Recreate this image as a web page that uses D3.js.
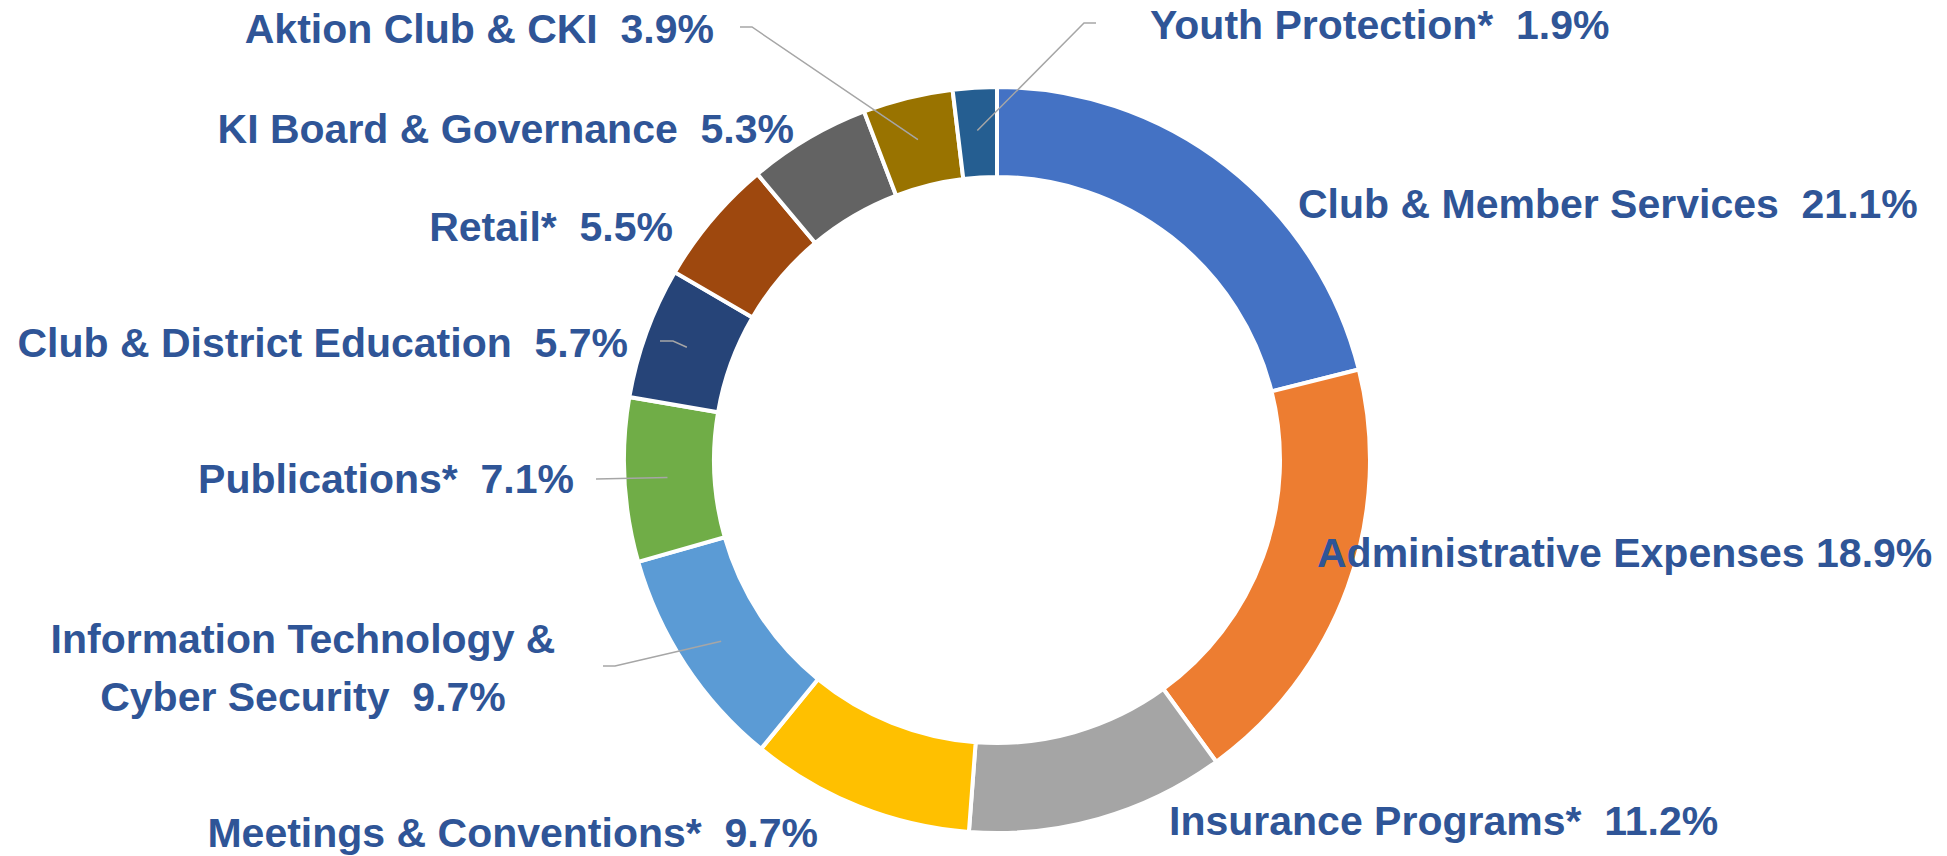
<!DOCTYPE html>
<html>
<head>
<meta charset="utf-8">
<script src="https://cdn.jsdelivr.net/npm/d3@7"></script>
<style>
  html, body { margin: 0; padding: 0; background: #fff; }
  svg text {
    font-family: "Liberation Sans", Arial, sans-serif;
    font-weight: bold;
    fill: #2F5597;
    white-space: pre;
  }
</style>
</head>
<body>
<svg id="chart" width="1947" height="856"></svg>
<script>
// Data, clockwise from 12 o'clock
const categories = [
    "Club & Member Services",
    "Administrative Expenses",
    "Insurance Programs*",
    "Meetings & Conventions*",
    "Information Technology & Cyber Security",
    "Publications*",
    "Club & District Education",
    "Retail*",
    "KI Board & Governance",
    "Aktion Club & CKI",
    "Youth Protection*"
];
const shares = [21.1, 18.9, 11.2, 9.7, 9.7, 7.1, 5.7, 5.5, 5.3, 3.9, 1.9];
// text lines shown for each slice
const labelLines = [
    ["Club & Member Services  21.1%"],
    ["Administrative Expenses 18.9%"],
    ["Insurance Programs*  11.2%"],
    ["Meetings & Conventions*  9.7%"],
    ["Information Technology &", "Cyber Security  9.7%"],
    ["Publications*  7.1%"],
    ["Club & District Education  5.7%"],
    ["Retail*  5.5%"],
    ["KI Board & Governance  5.3%"],
    ["Aktion Club & CKI  3.9%"],
    ["Youth Protection*  1.9%"]
];
const colors = ["#4472C4", "#ED7D31", "#A5A5A5", "#FFC000", "#5B9BD5", "#70AD47",
                "#264478", "#9E480E", "#636363", "#997300", "#255E91"];

// Layout: where Excel placed each label, plus leader line bends
const labelLayout = [
    {x: 1298, y: 218, anchor: "start"},
    {x: 1317, y: 567, anchor: "start"},
    {x: 1169, y: 835, anchor: "start"},
    {x: 818,  y: 847, anchor: "end"},
    {x: 303,  y: 653, anchor: "middle", leader: [[615, 666], [603, 666]]},
    {x: 574,  y: 493, anchor: "end", leader: [[596, 479]]},
    {x: 628,  y: 357, anchor: "end", leader: [[673, 341], [660, 341]]},
    {x: 673,  y: 241, anchor: "end"},
    {x: 794,  y: 143, anchor: "end"},
    {x: 714,  y: 43,  anchor: "end", leader: [[752, 27], [740, 27]]},
    {x: 1150, y: 39,  anchor: "start", leader: [[1084, 23], [1096, 23]]}
];

function drawDonut() {
    const svg = d3.select("#chart"),
          cx = 997,
          cy = 460,
          outerR = 373,
          innerR = 283,
          lineGap = 58,
          fontSize = 41;

    const data = categories.map((name, i) => ({
        name: name,
        value: shares[i],
        color: colors[i],
        lines: labelLines[i],
        layout: labelLayout[i]
    }));

    const pie = d3.pie()
        .sort(null)
        .value(d => d.value);

    const arc = d3.arc()
        .innerRadius(innerR)
        .outerRadius(outerR);

    const leaderArc = d3.arc()
        .innerRadius(330)
        .outerRadius(330);

    const arcs = pie(data);

    const g = svg.append("g")
        .attr("transform", `translate(${cx},${cy})`);

    g.selectAll("path.slice")
        .data(arcs)
        .enter().append("path")
        .attr("class", "slice")
        .attr("fill", d => d.data.color)
        .attr("stroke", "#fff")
        .attr("stroke-width", 4)
        .attr("stroke-linejoin", "miter")
        .attr("d", arc);

    // leader lines: from the middle of the ring out to the label
    const line = d3.line();
    g.selectAll("path.leader")
        .data(arcs.filter(d => d.data.layout.leader))
        .enter().append("path")
        .attr("class", "leader")
        .attr("fill", "none")
        .attr("stroke", "#A6A6A6")
        .attr("stroke-width", 1.5)
        .attr("d", d => {
            const start = leaderArc.centroid(d);
            const pts = d.data.layout.leader.map(p => [p[0] - cx, p[1] - cy]);
            return line([start, ...pts]);
        });

    // labels
    const labels = svg.selectAll("text.label")
        .data(arcs)
        .enter().append("text")
        .attr("class", "label")
        .attr("font-size", fontSize + "px")
        .attr("text-anchor", d => d.data.layout.anchor)
        .attr("x", d => d.data.layout.x)
        .attr("y", d => d.data.layout.y);

    labels.selectAll("tspan")
        .data(d => d.data.lines.map((t, i) => ({t: t, i: i, x: d.data.layout.x})))
        .enter().append("tspan")
        .attr("x", d => d.x)
        .attr("dy", d => d.i === 0 ? 0 : lineGap)
        .text(d => d.t);
}

drawDonut();
</script>
</body>
</html>
